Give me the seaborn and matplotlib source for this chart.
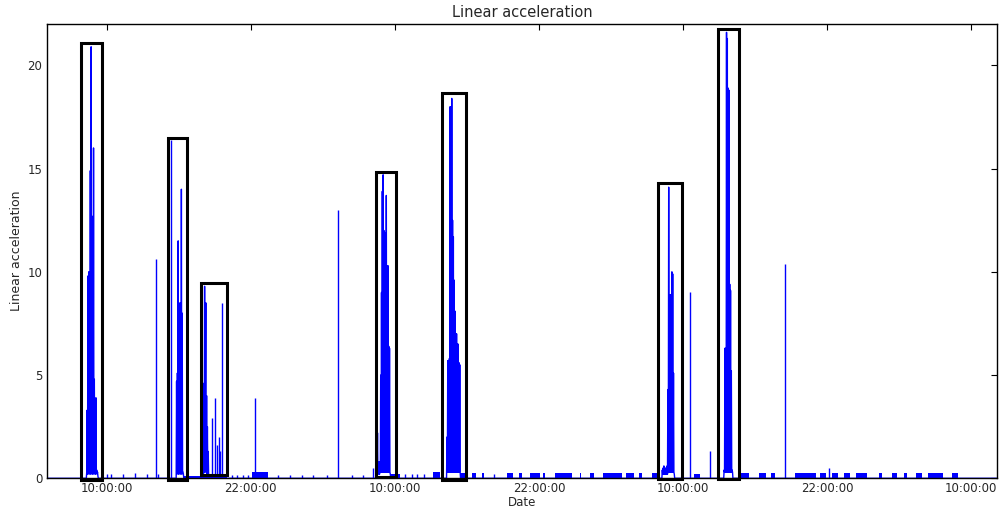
import matplotlib
matplotlib.use("Agg")
import matplotlib.pyplot as plt
import matplotlib.dates as mdates
from matplotlib.patches import Rectangle
import pandas as pd
import seaborn as sns

# ---------------- data ----------------
series_start = "2016-04-12 05:03"
series_end = "2016-04-15 12:07"
sample_minutes = 2  # spacing of readings inside a burst

burst_starts = ["2016-04-12 08:18", "2016-04-12 15:47", "2016-04-12 17:55",
                "2016-04-13 08:29", "2016-04-13 14:18", "2016-04-14 08:14",
                "2016-04-14 13:23"]
burst_values = [
    [0, 0.3, 3.3, 0.2, 9.8, 0.3, 10.0, 0.2, 9.6, 0.3, 14.9, 0.2, 20.9, 0.3, 12.7, 0.2,
     11.8, 0.3, 16.0, 0.2, 4.8, 0.3, 3.4, 0.2, 3.9, 0.3, 0.4, 0.2, 0.3, 0.1, 0],
    [0, 4.7, 0.2, 5.1, 0.3, 11.5, 0.2, 8.5, 0.3, 8.4, 0.2, 8.5, 0.3, 14.0, 0.2, 8.0,
     0.3, 0.3, 0.2, 0],
    [0, 3.5, 0.2, 3.8, 0.2, 4.6, 0.3, 9.3, 0.3, 4.6, 8.5, 0.3, 4.0, 0.2, 2.5, 0.2,
     1.3, 0.2, 0],
    [0, 0.5, 2.2, 0.3, 0.5, 0.2, 0.8, 0.2, 0.8, 0.3, 5.0, 0.3, 9.0, 0.3, 13.9, 0.3,
     14.7, 0.3, 12.0, 0.3, 11.9, 0.3, 10.5, 0.3, 13.7, 0.3, 10.2, 0.3, 10.3, 0.3, 6.4,
     0.3, 6.3, 0.3, 0.2, 0],
    [0, 2.0, 0.3, 5.7, 0.3, 5.6, 0.3, 5.8, 0.3, 18.0, 0.3, 14.5, 0.3, 18.4, 0.3, 12.5,
     0.3, 11.7, 0.3, 9.6, 0.3, 8.1, 0.3, 7.0, 0.3, 7.0, 0.3, 6.5, 0.3, 6.5, 0.3, 5.6,
     0.3, 5.5, 0.3, 0],
    [0, 0.4, 0.2, 0.5, 0.2, 0.6, 0.2, 0.4, 0.2, 0.5, 0.2, 0.3, 0.2, 0.6, 0.2, 4.3,
     0.3, 14.1, 0.3, 8.0, 0.3, 8.9, 0.3, 8.5, 0.3, 10.0, 0.3, 9.9, 0.3, 5.1, 0.3, 0.2, 0],
    [0, 0.4, 0.3, 6.3, 0.3, 6.3, 0.3, 21.6, 0.3, 21.3, 0.3, 18.9, 0.3, 18.8, 0.3, 9.4,
     0.3, 9.1, 0.3, 5.2, 0.3, 0.4, 0.3, 0],
]

spike_times = ["2016-04-12 10:00", "2016-04-12 10:20", "2016-04-12 11:20",
               "2016-04-12 12:21", "2016-04-12 13:20", "2016-04-12 14:08",
               "2016-04-12 14:18", "2016-04-12 15:21", "2016-04-12 18:48",
               "2016-04-12 19:01", "2016-04-12 19:10", "2016-04-12 19:23",
               "2016-04-12 19:28", "2016-04-12 19:38", "2016-04-12 20:25",
               "2016-04-12 20:50", "2016-04-12 21:20", "2016-04-12 21:48",
               "2016-04-12 22:20", "2016-04-13 00:18", "2016-04-13 01:17",
               "2016-04-13 02:15", "2016-04-13 03:13", "2016-04-13 04:20",
               "2016-04-13 05:18", "2016-04-13 06:25", "2016-04-13 07:23",
               "2016-04-13 08:09", "2016-04-13 10:52", "2016-04-13 11:25",
               "2016-04-13 11:50", "2016-04-13 12:23", "2016-04-13 18:13",
               "2016-04-14 10:32", "2016-04-14 12:15", "2016-04-14 18:28",
               "2016-04-14 22:08"]
spike_values = [0.2, 0.2, 0.2, 0.25, 0.2, 10.6,
                0.2, 16.4, 2.9,
                3.9, 1.6, 2.0,
                1.3, 8.5, 0.15,
                0.15, 0.15, 0.15,
                3.9, 0.15, 0.15,
                0.15, 0.15, 0.15,
                13.0, 0.15, 0.15,
                0.5, 0.2, 0.2,
                0.2, 0.2, 0.2,
                9.0, 1.3, 10.4,
                0.5]

block_starts = ["2016-04-12 16:26", "2016-04-12 17:47", "2016-04-12 22:05",
                "2016-04-13 09:34", "2016-04-13 13:11", "2016-04-13 15:26",
                "2016-04-13 16:25", "2016-04-13 17:15", "2016-04-13 19:20",
                "2016-04-13 20:18", "2016-04-13 21:17", "2016-04-13 22:20",
                "2016-04-13 23:21", "2016-04-14 01:23", "2016-04-14 02:17",
                "2016-04-14 03:20", "2016-04-14 05:15", "2016-04-14 06:18",
                "2016-04-14 07:25", "2016-04-14 10:52", "2016-04-14 14:43",
                "2016-04-14 16:18", "2016-04-14 17:17", "2016-04-14 19:21",
                "2016-04-14 21:22", "2016-04-14 22:22", "2016-04-14 23:22",
                "2016-04-15 00:22", "2016-04-15 02:17", "2016-04-15 03:22",
                "2016-04-15 04:22", "2016-04-15 05:26", "2016-04-15 06:22",
                "2016-04-15 08:26"]
block_ends = ["2016-04-12 17:47", "2016-04-12 20:02", "2016-04-12 23:24",
              "2016-04-13 10:26", "2016-04-13 13:47", "2016-04-13 15:52",
              "2016-04-13 16:47", "2016-04-13 17:26", "2016-04-13 19:50",
              "2016-04-13 20:35", "2016-04-13 22:03", "2016-04-13 22:32",
              "2016-04-14 00:45", "2016-04-14 01:30", "2016-04-14 02:33",
              "2016-04-14 04:55", "2016-04-14 05:53", "2016-04-14 06:35",
              "2016-04-14 07:50", "2016-04-14 11:26", "2016-04-14 15:28",
              "2016-04-14 16:52", "2016-04-14 17:41", "2016-04-14 21:02",
              "2016-04-14 21:52", "2016-04-14 22:52", "2016-04-14 23:52",
              "2016-04-15 01:17", "2016-04-15 02:32", "2016-04-15 03:47",
              "2016-04-15 04:41", "2016-04-15 05:56", "2016-04-15 07:37",
              "2016-04-15 08:52"]
block_levels = [0.12, 0.2, 0.3, 0.22, 0.3, 0.25, 0.25, 0.25, 0.25, 0.25, 0.25, 0.25,
                0.25, 0.25, 0.25, 0.25, 0.25, 0.25, 0.25, 0.2, 0.25, 0.25, 0.25, 0.25,
                0.25, 0.25, 0.25, 0.25, 0.25, 0.25, 0.25, 0.25, 0.25, 0.25]

box_starts = ["2016-04-12 07:53", "2016-04-12 15:07", "2016-04-12 17:53",
              "2016-04-13 08:23", "2016-04-13 13:53", "2016-04-14 07:53",
              "2016-04-14 12:53"]
box_ends = ["2016-04-12 09:37", "2016-04-12 16:41", "2016-04-12 20:03",
            "2016-04-13 10:03", "2016-04-13 15:53", "2016-04-14 09:53",
            "2016-04-14 14:37"]
box_bottoms = [-0.1, -0.1, 0.15, 0.05, -0.1, -0.05, -0.05]
box_tops = [21.1, 16.5, 9.45, 14.85, 18.65, 14.3, 21.75]

# ---------------- build reading table ----------------
rows = [(pd.Timestamp(series_start), 0.0), (pd.Timestamp(series_end), 0.0)]
for start, vals in zip(burst_starts, burst_values):
    t0 = pd.Timestamp(start)
    for i, v in enumerate(vals):
        rows.append((t0 + pd.Timedelta(minutes=sample_minutes * i), v))
df = pd.DataFrame(rows, columns=["Date", "Linear acceleration"]).sort_values("Date")

# ---------------- plot ----------------
sns.set_style("white")
plt.rcParams["font.family"] = ["DejaVu Sans"]
plt.rcParams["xtick.direction"] = "in"
plt.rcParams["ytick.direction"] = "in"

fig = plt.figure(figsize=(10, 5.12), dpi=100)
ax = fig.add_axes([0.0473, 0.0658, 0.9494, 0.8872])

for s, e, lv in zip(block_starts, block_ends, block_levels):
    ax.fill_between([pd.Timestamp(s), pd.Timestamp(e)], [0, 0], [lv, lv],
                    color="blue", linewidth=0)

sns.lineplot(data=df, x="Date", y="Linear acceleration", ax=ax, color="blue",
             linewidth=1.0, estimator=None, sort=True)

ax.vlines([pd.Timestamp(t) for t in spike_times], 0, spike_values,
          color="blue", linewidth=1.0)

for s, e, b, t in zip(box_starts, box_ends, box_bottoms, box_tops):
    x0 = mdates.date2num(pd.Timestamp(s))
    x1 = mdates.date2num(pd.Timestamp(e))
    ax.add_patch(Rectangle((x0, b), x1 - x0, t - b, fill=False, edgecolor="black",
                           linewidth=2.2, clip_on=False, zorder=5))

ax.set_xlim(pd.Timestamp(series_start), pd.Timestamp(series_end))
ax.set_ylim(0, 22)
ax.set_yticks([0, 5, 10, 15, 20])
ax.xaxis.set_major_locator(mdates.HourLocator(byhour=[10, 22]))
ax.xaxis.set_major_formatter(mdates.DateFormatter("%H:%M:%S"))
ax.tick_params(axis="both", which="both", direction="in", top=True, right=True,
               labelsize=8.5, length=4, width=0.8, color="black")
ax.tick_params(axis="x", pad=2.5)
ax.tick_params(axis="y", pad=3.5)
for sp in ax.spines.values():
    sp.set_color("black")
    sp.set_linewidth(1.0)
    sp.set_visible(True)

ax.set_title("Linear acceleration", fontsize=10.5, pad=5)
ax.set_xlabel("Date", fontsize=8.5, labelpad=1)
ax.set_ylabel("Linear acceleration", fontsize=9, labelpad=3)

fig.savefig("out.png", dpi=100, facecolor="white")
